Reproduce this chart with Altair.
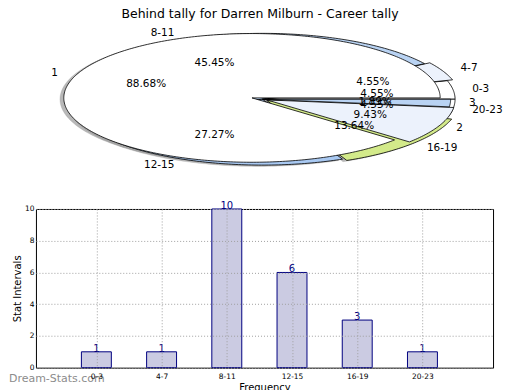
import json
import math
import altair as alt
import pandas as pd

TITLE = "Behind tally for Darren Milburn - Career tally"

# frequency bins (bar chart + outer pie)
bins = ["0-3", "4-7", "8-11", "12-15", "16-19", "20-23"]
bin_counts = [1, 1, 10, 6, 3, 1]

# career tally pie (second pie drawn over the first)
tally_labels = ["1", "2", "3"]
tally_counts = [47, 5, 1]

# styles
bin_colors = ["#ffffff", "#ecf2fc", "#b9d3f3", "#a9c9f2", "#d3ea8a", "#ffffff"]
tally_colors = ["#ffffff", "#e9f0fc", "#c3d8f3"]
bin_explode = [0, 0.03, 0, 0, 0.03, 0]
tally_explode = [0.058, 0.025, 0]
tally_radius = 0.977
FONT = "DejaVu Sans"


def pie_tables(labels, counts, explode, radius, prefix):
    total = float(sum(counts))
    poly, labs, pcts = [], [], []
    start = 0.0
    for lab, c, ex in zip(labels, counts, explode):
        frac = c / total
        t1, t2 = 360 * start, 360 * (start + frac)
        mid = math.radians((t1 + t2) / 2)
        cx, cy = ex * math.cos(mid), ex * math.sin(mid)
        n = max(2, int(t2 - t1) + 2)
        pts = [(cx, cy)]
        for k in range(n):
            a = math.radians(t1 + (t2 - t1) * k / (n - 1))
            pts.append((cx + radius * math.cos(a), cy + radius * math.sin(a)))
        pts.append((cx, cy))
        wid = prefix + lab
        for k, (x, y) in enumerate(pts):
            poly.append({"wid": wid, "k": k, "x": x, "y": y})
        lx = cx + 1.1 * radius * math.cos(mid)
        ly = cy + 1.1 * radius * math.sin(mid)
        labs.append({"text": lab, "x": lx, "y": ly,
                     "side": "left" if lx > 0 else "right"})
        pcts.append({"text": f"{100 * frac:.2f}%",
                     "x": cx + 0.6 * radius * math.cos(mid),
                     "y": cy + 0.6 * radius * math.sin(mid)})
        start += frac
    return poly, labs, pcts


polyA, labA, pctA = pie_tables(bins, bin_counts, bin_explode, 1.0, "A")
polyB, labB, pctB = pie_tables(tally_labels, tally_counts, tally_explode, tally_radius, "B")

dfA = pd.DataFrame(polyA)
dfB = pd.DataFrame(polyB)
shadow = pd.concat([dfA, dfB])
shadow = shadow.assign(x=shadow.x - 0.02, y=shadow.y - 0.02)
labels_df = pd.DataFrame(labA + labB)
pct_df = pd.DataFrame(pctA + pctB)

PW, PH = 476, 160
XMIN = -1.176
YMAX = 1.152
xs = alt.Scale(domain=[XMIN, XMIN + PW / 193.0], nice=False, zero=False)
ys = alt.Scale(domain=[YMAX - PH / 66.0, YMAX], nice=False, zero=False)
X = alt.X("x:Q", scale=xs, axis=None)
Y = alt.Y("y:Q", scale=ys, axis=None)

shadow_layer = alt.Chart(shadow).mark_line(
    fill="#9a9a9a", fillOpacity=0.7, stroke="#9a9a9a", strokeWidth=0.5, strokeOpacity=0.5
).encode(x=X, y=Y, detail="wid:N", order="k:Q")


def wedge_layer(df, labels, colors, prefix):
    return alt.Chart(df).mark_line(stroke="black", strokeWidth=0.8).encode(
        x=X, y=Y, detail="wid:N", order="k:Q",
        fill=alt.Fill("wid:N", scale=alt.Scale(domain=[prefix + l for l in labels], range=colors), legend=None),
    )


layerA = wedge_layer(dfA, bins, bin_colors, "A")
layerB = wedge_layer(dfB, tally_labels, tally_colors, "B")

lab_left = alt.Chart(labels_df).transform_filter("datum.side == 'left'").mark_text(
    align="left", baseline="middle", fontSize=10.5, font=FONT, color="black"
).encode(x=X, y=Y, text="text:N")
lab_right = alt.Chart(labels_df).transform_filter("datum.side == 'right'").mark_text(
    align="right", baseline="middle", fontSize=10.5, font=FONT, color="black"
).encode(x=X, y=Y, text="text:N")
pct_layer = alt.Chart(pct_df).mark_text(
    align="center", baseline="middle", fontSize=10.5, font=FONT, color="black"
).encode(x=X, y=Y, text="text:N")

pie = alt.layer(shadow_layer, layerA, layerB, lab_left, lab_right, pct_layer).properties(
    width=PW, height=PH, view=alt.ViewBackground(stroke="transparent")
)

# ---- bar chart ----
bar_df = pd.DataFrame({"bin": bins, "pos": list(range(1, len(bins) + 1)), "count": bin_counts})
label_expr = json.dumps(bins) + "[datum.value - 1]"
bx = alt.X("pos:Q", scale=alt.Scale(domain=[0.15, 7.006], nice=False),
           axis=alt.Axis(values=list(range(1, len(bins) + 1)), labelExpr=label_expr, title="Frequency",
                         grid=True, gridDash=[1, 2], gridColor="#a0a0a0", domain=False, ticks=False,
                         labelFontSize=7.5, labelPadding=5, titleFontSize=10, titlePadding=2,
                         labelColor="black", titleColor="black", titleFontWeight="normal", zindex=1))
by = alt.Y("count:Q", scale=alt.Scale(domain=[0, 10], nice=False),
           axis=alt.Axis(values=[0, 2, 4, 6, 8, 10], title="Stat Intervals",
                         grid=True, gridDash=[1, 2], gridColor="#a0a0a0", domain=False, ticks=False,
                         labelFontSize=7.5, labelPadding=2, titleFontSize=10, titlePadding=1,
                         minExtent=12, maxExtent=12,
                         labelColor="black", titleColor="black", titleFontWeight="normal", zindex=1))

bars = alt.Chart(bar_df).mark_bar(size=30, fill="#cbcbe2", stroke="#000080", strokeWidth=1).encode(
    x=bx, y=by)
bar_text = alt.Chart(bar_df).mark_text(baseline="alphabetic", fontSize=10, font=FONT, color="#000080").encode(
    x=bx, y=by, text="count:Q")
watermark = alt.Chart(bar_df).transform_filter("datum.pos == 1").mark_text(
    align="left", baseline="middle", fontSize=11, font=FONT, color="#8c8c8c"
).encode(x=alt.value(-27), y=alt.value(170), text=alt.value("Dream-Stats.com"))

bar = alt.layer(bars, bar_text, watermark).properties(
    width=458, height=159, view=alt.ViewBackground(stroke="black", strokeWidth=1)
)

chart = alt.vconcat(pie, bar, spacing=16).properties(
    title=alt.TitleParams(TITLE, fontSize=12.5, font=FONT, fontWeight="normal", anchor="middle", offset=2),
    padding=0,
).configure(font=FONT).configure_view(stroke="transparent")

chart.save("out.html", embed_options={"renderer": "svg", "actions": False})
